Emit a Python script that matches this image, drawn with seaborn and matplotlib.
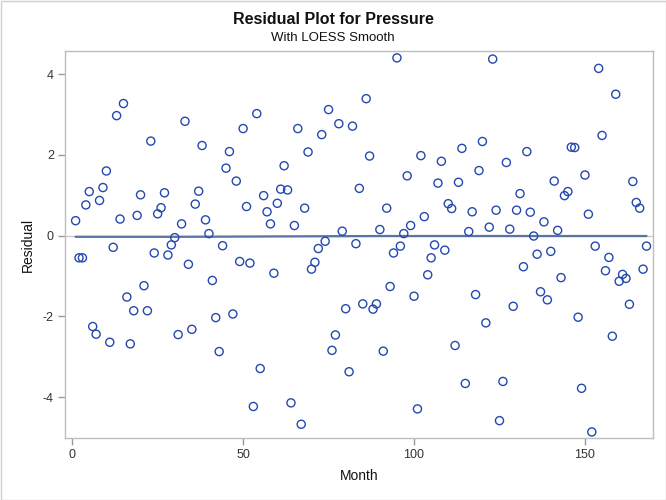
import matplotlib
matplotlib.use("Agg")
import matplotlib.pyplot as plt
import seaborn as sns
import numpy as np
import pandas as pd

months = list(range(1, 169))
residuals = [
    0.37, -0.55, -0.55, 0.76, 1.09, -2.25, -2.44, 0.87, 1.19, 1.60,
    -2.64, -0.29, 2.97, 0.41, 3.27, -1.52, -2.68, -1.86, 0.50, 1.01,
    -1.24, -1.86, 2.34, -0.43, 0.54, 0.69, 1.06, -0.48, -0.23, -0.05,
    -2.45, 0.29, 2.83, -0.71, -2.32, 0.78, 1.10, 2.23, 0.39, 0.05,
    -1.11, -2.03, -2.87, -0.25, 1.67, 2.08, -1.94, 1.35, -0.64, 2.65,
    0.72, -0.68, -4.23, 3.02, -3.29, 0.99, 0.59, 0.29, -0.93, 0.80,
    1.15, 1.73, 1.13, -4.14, 0.25, 2.65, -4.67, 0.68, 2.07, -0.83,
    -0.66, -0.32, 2.50, -0.14, 3.12, -2.84, -2.46, 2.77, 0.11, -1.81,
    -3.37, 2.71, -0.20, 1.17, -1.69, 3.39, 1.97, -1.82, -1.69, 0.15,
    -2.86, 0.68, -1.26, -0.43, 4.40, -0.26, 0.05, 1.48, 0.25, -1.50,
    -4.29, 1.98, 0.47, -0.97, -0.55, -0.23, 1.30, 1.84, -0.36, 0.79,
    0.67, -2.72, 1.32, 2.16, -3.66, 0.10, 0.59, -1.46, 1.61, 2.33,
    -2.16, 0.21, 4.37, 0.63, -4.58, -3.61, 1.81, 0.16, -1.75, 0.63,
    1.04, -0.77, 2.08, 0.58, -0.01, -0.46, -1.39, 0.34, -1.59, -0.39,
    1.35, 0.13, -1.04, 0.99, 1.09, 2.19, 2.18, -2.02, -3.78, 1.50,
    0.53, -4.86, -0.26, 4.14, 2.48, -0.87, -0.54, -2.49, 3.50, -1.13,
    -0.96, -1.06, -1.70, 1.34, 0.82, 0.68, -0.83, -0.26,
]
loess_month = [1, 30, 60, 90, 120, 150, 168]
loess_fit = [-0.03, -0.03, -0.02, -0.01, -0.01, -0.01, -0.01]

df = pd.DataFrame({"Month": months, "Residual": residuals})
fit = pd.DataFrame({"Month": loess_month, "Fit": loess_fit})

sns.set_theme(style="white")
plt.rcParams['font.family'] = ['Liberation Sans', 'DejaVu Sans']
plt.rcParams['axes.unicode_minus'] = False

fig = plt.figure(figsize=(6.66, 5.0), dpi=100)
ax = fig.add_axes([65/666, 1-438/500, (653-65)/666, (438-51)/500])

ax.axhline(0, color="#C8C8C8", lw=1.0, zorder=1)
sns.lineplot(data=fit, x="Month", y="Fit", ax=ax, color="#5A74A2", lw=1.6, zorder=2)
sns.scatterplot(data=df, x="Month", y="Residual", ax=ax, marker="o", s=34,
                facecolor="none", edgecolor="#2548B0", linewidth=1.0, zorder=3)

ax.set_xlim(-2.1, 169.9)
ax.set_ylim(-5.01, 4.57)
ax.set_xticks([0, 50, 100, 150])
ax.set_yticks([-4, -2, 0, 2, 4])
for s in ax.spines.values():
    s.set_color("#BDBDBD")
    s.set_linewidth(1.0)
ax.tick_params(axis="both", which="both", direction="out", length=5, width=1,
               color="#9A9A9A", labelsize=9, labelcolor="#333333", bottom=True, left=True, pad=3)
ax.set_xlabel("Month", fontsize=10, color="#111111", labelpad=6)
ax.set_ylabel("Residual", fontsize=10, color="#111111", labelpad=6)

fig.text(0.5, 1-20/500, "Residual Plot for Pressure", ha="center", va="center",
         fontsize=11.5, fontweight="bold", color="#111111")
fig.text(0.5, 1-38/500, "With LOESS Smooth", ha="center", va="center",
         fontsize=9.5, color="#111111")

border = plt.Rectangle((0.5/666, 0.5/500), 1-1/666, 1-1/500, transform=fig.transFigure,
                       fill=False, edgecolor="#D0D0D0", lw=1.0)
fig.patches.append(border)

fig.savefig("out.png", dpi=100)
